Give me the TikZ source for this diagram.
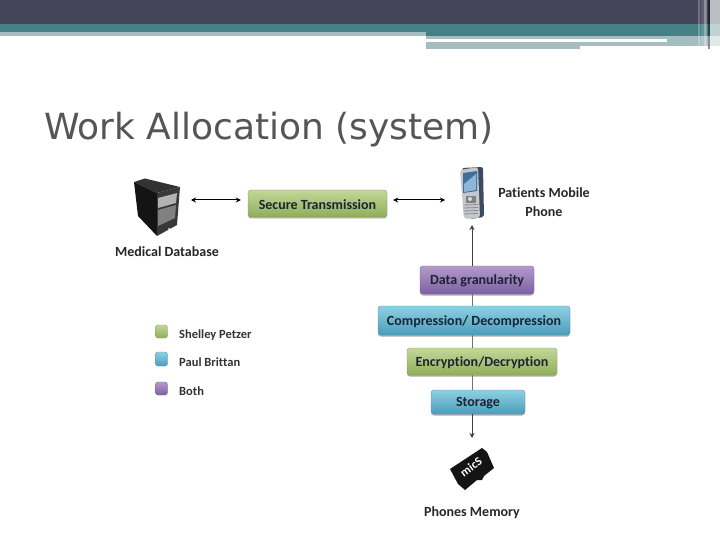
\documentclass[tikz,border=0pt]{standalone}
\usepackage{fontspec}
\setmainfont{Carlito}[Ligatures=NoCommon]
\newfontfamily\titlefont{DejaVu Sans}
\usetikzlibrary{arrows.meta,shadows}
\definecolor{green1}{HTML}{C3D79A}\definecolor{green2}{HTML}{8FAE58}
\definecolor{blue1}{HTML}{8FD0E4}\definecolor{blue2}{HTML}{4A9DBB}
\definecolor{purple1}{HTML}{B39BCB}\definecolor{purple2}{HTML}{7D5FA3}
\definecolor{darkbar}{HTML}{44445A}\definecolor{tealbar}{HTML}{467F85}
\definecolor{palebar}{HTML}{A5BDC0}\definecolor{titlegray}{HTML}{555555}
\definecolor{palecorner}{HTML}{DFEBEB}
\definecolor{phoneedge}{HTML}{3F4A62}\definecolor{phonebody}{HTML}{C4C8CC}
\definecolor{phonescreen}{HTML}{3F6E9C}\definecolor{phoneglare}{HTML}{8DB6D8}
\definecolor{boxtext}{HTML}{1A2433}
\newcommand{\boxword}[1]{\raisebox{-1pt}[\height][\depth]{#1}}
\tikzset{
  x=1pt,y=-1pt,
  boxbase/.style={rounded corners=3pt,inner sep=0pt,font=\fontsize{14}{16}\selectfont\bfseries,text=boxtext},
  greenbox/.style={boxbase,draw=green2!70!gray,top color=green1,bottom color=green2},
  bluebox/.style={boxbase,draw=blue2!70!gray,top color=blue1,bottom color=blue2},
  purplebox/.style={boxbase,draw=purple2!70!gray,top color=purple1,bottom color=purple2},
  caption/.style={font=\fontsize{14}{16}\selectfont\bfseries,text=black!85,inner sep=0pt},
  legendtext/.style={font=\fontsize{12.5}{14}\selectfont\bfseries,text=black!80,anchor=west,inner sep=0pt},
  holder/.style={inner sep=0pt,outer sep=0pt},
  twoway/.style={{Stealth[length=5pt,width=5pt]}-{Stealth[length=5pt,width=5pt]},line width=1pt,black},
  oneway/.style={-{Stealth[length=5pt,width=5pt]},line width=.8pt,black!75},
  plainline/.style={line width=.8pt,black!55},
  boxshadow/.style={drop shadow={shadow xshift=0pt,shadow yshift=-1.5pt,opacity=.45,fill=black!70}}
}
\begin{document}
\begin{tikzpicture}
\useasboundingbox (0,0) rectangle (720,540);
\fill[white] (0,0) rectangle (720,540);
% header bands
\fill[darkbar] (0,0) rectangle (720,24);
\fill[tealbar] (0,24) rectangle (720,32);
\fill[tealbar] (426,32) rectangle (720,36);
\fill[palebar] (0,32) rectangle (426,36);
\fill[palebar] (426,36) rectangle (667,39);
\fill[palebar] (426,42) rectangle (580,49);
\fill[palebar] (580,42) rectangle (667,46);
\fill[palebar] (667,36) rectangle (708,46);
\fill[white,opacity=.25] (698,0) rectangle (700,46);
\fill[white,opacity=.15] (701,0) rectangle (706,46);
\fill[white,opacity=.3] (704,0) rectangle (707,46);
\fill[black,opacity=.45] (708,0) rectangle (709.5,49);
\fill[white,opacity=.65] (710,0) rectangle (720,36);
\fill[palecorner] (710,36) rectangle (720,46);
% title
\node[anchor=west,inner sep=0pt,text=titlegray,font=\titlefont\fontsize{36}{42}\selectfont] (title) at (44,130) {Work Allocation (system)};
% icon holders
\node[holder,minimum width=65pt,minimum height=60pt] (server) at (158.5,200) {};
\node[holder,minimum width=54pt,minimum height=50pt] (phone) at (472,200) {};
\node[holder,minimum width=50pt,minimum height=54pt] (card) at (472,465) {};
% server
\fill[black!80] (134,182) -- (145,178.5) -- (180,187) -- (157,193) -- cycle;
\fill[black!92] (134,182) -- (157,193) -- (157,236) -- (138,216) -- cycle;
\fill[black!78] (157,193) -- (180,187) -- (177,225) -- (157,236) -- cycle;
\fill[black!30] (158,198) -- (177,193) -- (176,203) -- (158,208) -- cycle;
\fill[black!50] (158,210) -- (176,205) -- (175,218) -- (158,226) -- cycle;
\fill[white] (169,229) circle (1);
% phone
\fill[phoneedge,rounded corners=2pt] (462,168) -- (483,167) -- (484,217) -- (470,219) -- cycle;
\fill[phonebody,rounded corners=3pt] (460,170) -- (478,167) -- (480,218) -- (464,219) -- cycle;
\fill[phonescreen] (463,173) -- (477,171) -- (477,191) -- (463,193) -- cycle;
\fill[phoneglare] (464,184) -- (476,174) -- (476,190) -- (464,192) -- cycle;
\fill[black!50] (466,196) rectangle (476,203);
\fill[white!70!gray] (470,199) circle (2);
\foreach \ky in {205,208,211,214}{\draw[black!45,line width=.8pt] (463.5,\ky) -- (478,\ky-.5);}
% micro card
\fill[black!92] (450,469) -- (482,448) -- (487,452) -- (494,468) -- (484,476) -- (482,480) -- (477,480) -- (465,490) -- (458,484) -- cycle;
\node[holder,text=white,rotate=36,font=\fontsize{12}{12}\selectfont\bfseries] (cardtext) at (471,467) {micS};
% boxes
\node[greenbox,boxshadow,minimum width=139pt,minimum height=27pt] (sec) at (317.5,203.5) {\boxword{Secure Transmission}};
\node[purplebox,boxshadow,minimum width=114pt,minimum height=28pt] (data) at (477,280) {\boxword{Data granularity}};
\node[bluebox,boxshadow,minimum width=192pt,minimum height=29pt] (comp) at (474,320.5) {\boxword{Compression/ Decompression}};
\node[greenbox,boxshadow,minimum width=150pt,minimum height=27pt] (enc) at (482,361.5) {\boxword{Encryption/Decryption}};
\node[bluebox,boxshadow,minimum width=94pt,minimum height=24pt] (stor) at (478,402) {\boxword{Storage}};
% connectors
\draw[twoway,shorten >=7pt] (server.east) -- ([yshift=3.5pt]sec.west);
\draw[twoway,shorten <=6pt] ([yshift=3.5pt]sec.east) -- (phone.west);
\draw[oneway] (data.north -| phone.south) -- (phone.south);
\draw[plainline] (data.south -| phone.south) -- (comp.north -| phone.south);
\draw[plainline] (comp.south -| phone.south) -- (enc.north -| phone.south);
\draw[plainline] (enc.south -| phone.south) -- (stor.north -| phone.south);
\draw[oneway] (stor.south -| card.north) -- (card.north);
% captions
\node[caption] (dbl) at (167,252) {Medical Database};
\node[caption] (phl1) at (544,192.5) {Patients Mobile};
\node[caption] (phl2) at (544,212) {Phone};
\node[caption] (meml) at (472,513) {Phones Memory};
% legend
\node[greenbox,rounded corners=2.5pt,minimum width=12pt,minimum height=13pt] (lg1) at (161.5,331.5) {};
\node[bluebox,rounded corners=2.5pt,minimum width=12pt,minimum height=14pt] (lg2) at (161.5,359) {};
\node[purplebox,rounded corners=2.5pt,minimum width=12pt,minimum height=13pt] (lg3) at (161.5,388.5) {};
\node[legendtext] (lt1) at (179,335) {Shelley Petzer};
\node[legendtext] (lt2) at (179,362) {Paul Brittan};
\node[legendtext] (lt3) at (179,391) {Both};
\end{tikzpicture}
\end{document}
